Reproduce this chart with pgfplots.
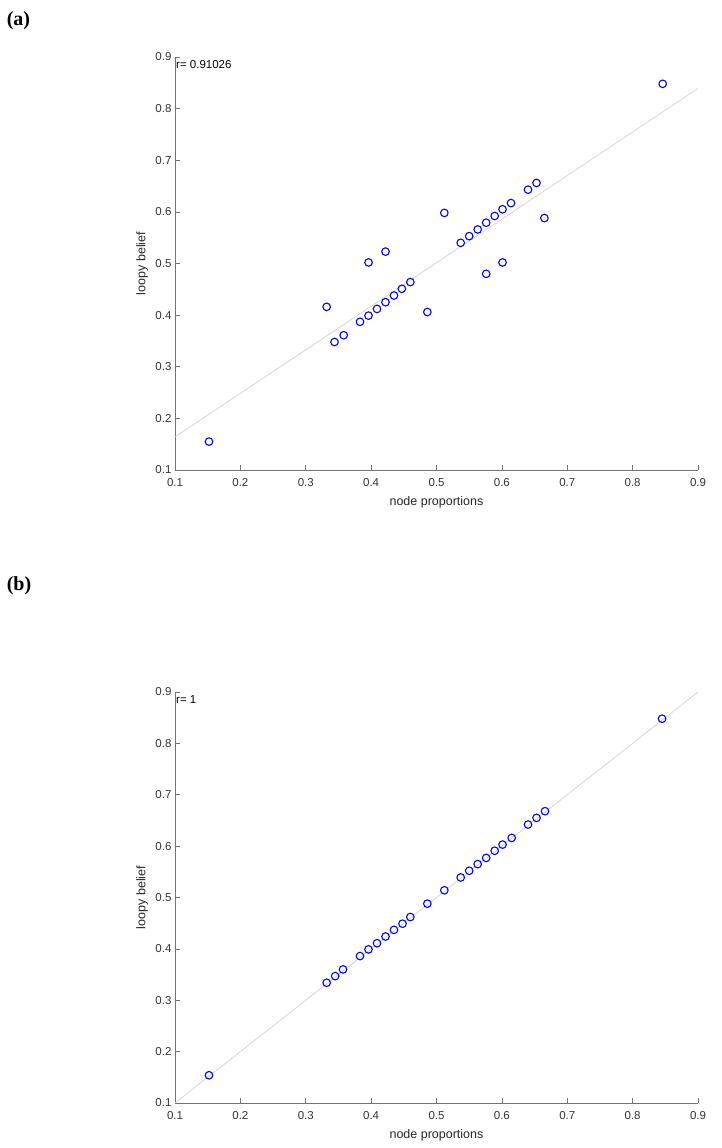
\documentclass[border=0pt]{standalone}
\usepackage{fontspec}
\setmainfont{Liberation Sans}
\newfontfamily\panelfont{Liberation Serif}
\usepackage{pgfplots}
\pgfplotsset{compat=1.18}

% scatter data: node proportions vs loopy belief
\pgfplotsset{
  corrplot/.style={
    scale only axis,
    width=523pt,
    xmin=0.1, xmax=0.9, ymin=0.1, ymax=0.9,
    axis x line*=bottom, axis y line*=left,
    axis line style={black!55, line width=0.6pt},
    xtick={0.1,0.2,0.3,0.4,0.5,0.6,0.7,0.8,0.9},
    ytick={0.1,0.2,0.3,0.4,0.5,0.6,0.7,0.8,0.9},
    tick align=inside, major tick length=5pt,
    tick style={black!55, line width=0.6pt},
    /pgf/number format/fixed, /pgf/number format/precision=1,
    /pgf/number format/assume math mode=true,
    tick label style={font=\fontsize{11.5}{13}\selectfont, text=black!80},
    xticklabel shift=5pt,
    xlabel={node proportions}, ylabel={loopy belief},
    label style={font=\fontsize{12.5}{15}\selectfont, text=black!85},
    xlabel style={at={(axis description cs:0.5,0)}, anchor=center, yshift=-32pt},
    ylabel style={at={(axis description cs:-0.063,0.5)}, anchor=center},
    clip=false,
  },
  dots/.style={only marks, mark=o, mark size=3.8pt, blue, line width=1.1pt},
  fitline/.style={no marks, black!18, line width=0.7pt},
}

\begin{document}
\begin{tikzpicture}[x=1pt,y=1pt]
\useasboundingbox (0,0) rectangle (721,1148);

\node[font=\panelfont\bfseries\fontsize{20}{22}\selectfont, anchor=center] at (18.5,1127.5) {(a)};
\node[font=\panelfont\bfseries\fontsize{20}{22}\selectfont, anchor=center] at (19,562) {(b)};

\begin{axis}[corrplot, height=413pt, at={(175pt,678pt)}, anchor=south west]
  \addplot[fitline] coordinates {(0.1,0.164) (0.9,0.839)};
  \addplot[dots] coordinates {
    (0.152,0.155) (0.332,0.416) (0.344,0.348) (0.358,0.361)
    (0.383,0.387) (0.396,0.399) (0.396,0.502) (0.409,0.412)
    (0.422,0.425) (0.422,0.523) (0.435,0.438) (0.447,0.451)
    (0.460,0.464) (0.486,0.406) (0.512,0.598) (0.537,0.540)
    (0.550,0.553) (0.563,0.566) (0.576,0.579) (0.576,0.480)
    (0.589,0.592) (0.601,0.605) (0.601,0.502) (0.614,0.617)
    (0.640,0.643) (0.653,0.656) (0.665,0.588) (0.846,0.848)
  };
  \node[anchor=north west, inner sep=0pt, font=\fontsize{11.5}{13}\selectfont, xshift=1pt, yshift=-3.5pt]
    at (axis cs:0.1,0.9) {r= 0.91026};
\end{axis}

\begin{axis}[corrplot, height=411pt, at={(175pt,45pt)}, anchor=south west]
  \addplot[fitline] coordinates {(0.1,0.1) (0.9,0.9)};
  \addplot[dots] coordinates {
    (0.152,0.154) (0.332,0.334) (0.345,0.347) (0.357,0.360)
    (0.383,0.386) (0.396,0.399) (0.409,0.411) (0.422,0.424)
    (0.435,0.437) (0.448,0.449) (0.460,0.462) (0.486,0.488)
    (0.512,0.514) (0.537,0.539) (0.550,0.552) (0.563,0.565)
    (0.576,0.577) (0.589,0.591) (0.601,0.603) (0.615,0.616)
    (0.640,0.642) (0.653,0.655) (0.666,0.668) (0.845,0.848)
  };
  \node[anchor=north west, inner sep=0pt, font=\fontsize{11.5}{13}\selectfont, xshift=1pt, yshift=-3.5pt]
    at (axis cs:0.1,0.9) {r= 1};
\end{axis}
\end{tikzpicture}
\end{document}
